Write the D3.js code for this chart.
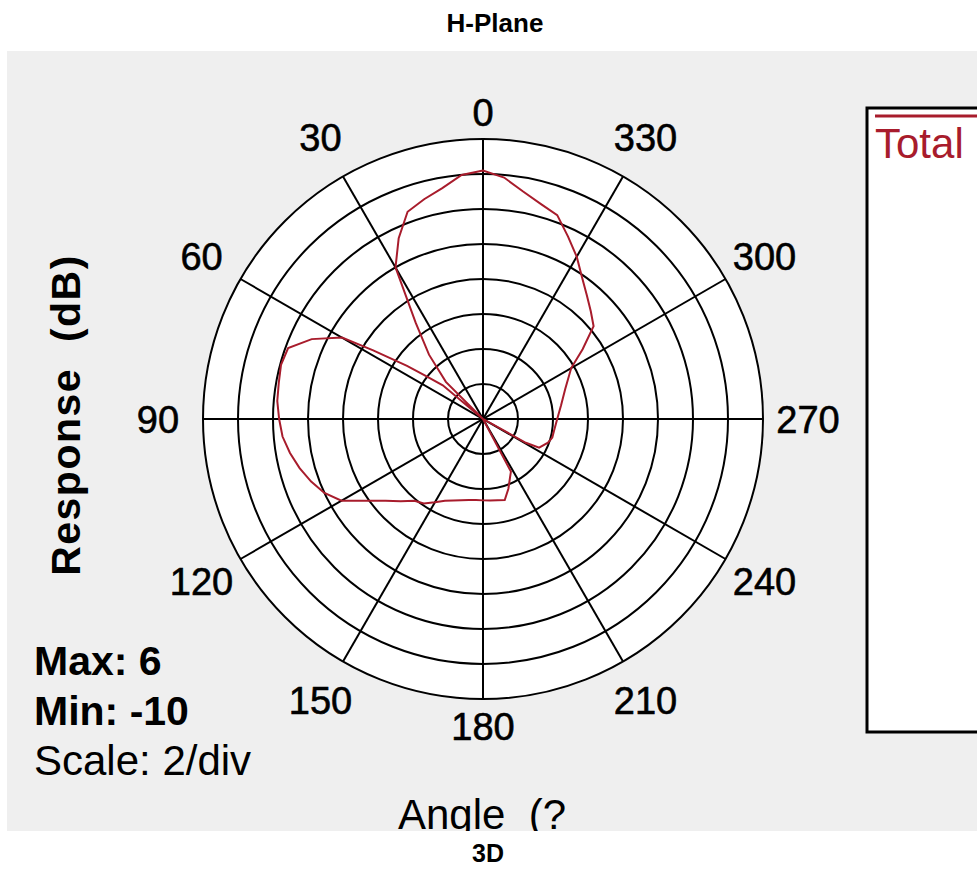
<!DOCTYPE html>
<html>
<head>
<meta charset="utf-8">
<script src="https://cdn.jsdelivr.net/npm/d3@7"></script>
<style>
  body { margin: 0; background: #fff; }
  text { font-family: "Liberation Sans", Arial, sans-serif; }
</style>
</head>
<body>
<div id="chart"></div>
<script>
// measured pattern, angle in degrees (counter-clockwise from top), response in dB
const angles = [0, 5, 10, 15, 20, 25, 30, 35, 40, 45, 47, 50, 53, 55, 58, 60, 65, 70, 75, 80, 85, 90,
  95, 100, 105, 110, 115, 120, 125, 130, 135, 140, 145, 150, 155, 160, 165, 170, 175, 180,
  185, 190, 195, 200, 205, 208, 212, 225, 238, 241, 243, 250, 255, 260, 270, 280, 290,
  300, 305, 310, 315, 320, 325, 330, 335, 340, 345, 350, 355];
const response = [4.2, 4.0, 3.4, 3.0, 2.6, 1.4, 0.0, -3.3, -5.2, -7.0, -10, -7.0, -5.9, -4.7, -2.6, -0.7, 0.8, 1.85, 1.95, 1.85, 1.8, 1.65,
  1.5, 1.2, 0.85, 0.45, 0.0, -0.66, -1.86, -2.73, -3.35, -3.9, -4.1, -4.5, -4.85, -5.05, -5.2, -5.3, -5.35, -5.35,
  -5.33, -5.28, -5.2, -5.76, -6.34, -6.6, -10, -10, -10, -7.2, -6.4, -6.05, -5.9, -5.89, -5.76, -5.47, -5.0,
  -4.18, -3.05, -1.75, -1.29, -0.77, -0.13, 0.71, 1.5, 2.4, 2.73, 3.2, 3.85];

const ringValues = [-8, -6, -4, -2, 0, 2, 4, 6];
const spokeAngles = [0, 30, 60, 90, 120, 150];
const angleTicks = [0, 30, 60, 90, 120, 150, 180, 210, 240, 270, 300, 330];
const statLines = ["Max: 6", "Min: -10", "Scale: 2/div"];
const seriesName = "Total";

const width = 977, height = 872;
const cx = 483, cy = 419, R = 280;
const red = "#a81c2c";

const svg = d3.select("#chart").append("svg")
  .attr("width", width)
  .attr("height", height);

svg.append("text")
  .attr("x", 495).attr("y", 32)
  .attr("text-anchor", "middle")
  .style("font-size", "26px").style("font-weight", "bold")
  .text("H-Plane");

svg.append("clipPath").attr("id", "panel-clip")
  .append("rect").attr("x", 7).attr("y", 51).attr("width", 970).attr("height", 780);

const panel = svg.append("g").attr("clip-path", "url(#panel-clip)");
panel.append("rect")
  .attr("x", 7).attr("y", 51).attr("width", 970).attr("height", 780)
  .attr("fill", "#efefef");

const r = d3.scaleLinear().domain([-10, 6]).range([0, R]).clamp(true);
const toRad = d => -d * Math.PI / 180;

const polar = panel.append("g").attr("transform", `translate(${cx},${cy})`);

polar.append("circle").attr("r", R).attr("fill", "#fff");

polar.selectAll(".ring")
  .data(ringValues)
  .enter().append("circle")
  .attr("class", "ring")
  .attr("r", d => r(d))
  .attr("fill", "none")
  .attr("stroke", "#000")
  .attr("stroke-width", 2);

polar.selectAll(".spoke")
  .data(spokeAngles)
  .enter().append("line")
  .attr("class", "spoke")
  .attr("x1", d => R * Math.sin(toRad(d)))
  .attr("y1", d => -R * Math.cos(toRad(d)))
  .attr("x2", d => -R * Math.sin(toRad(d)))
  .attr("y2", d => R * Math.cos(toRad(d)))
  .attr("stroke", "#000")
  .attr("stroke-width", 2);

const line = d3.lineRadial()
  .angle(d => toRad(d[0]))
  .radius(d => r(d[1]))
  .curve(d3.curveLinearClosed);

polar.append("path")
  .datum(d3.zip(angles, response))
  .attr("d", line)
  .attr("fill", "none")
  .attr("stroke", red)
  .attr("stroke-width", 2);

const labelRadius = d => d % 180 === 0 ? R + 27 : R + 45;

polar.selectAll(".angle-label")
  .data(angleTicks)
  .enter().append("text")
  .attr("class", "angle-label")
  .attr("x", d => labelRadius(d) * Math.sin(toRad(d)))
  .attr("y", d => -labelRadius(d) * Math.cos(toRad(d)))
  .attr("dy", "0.36em")
  .attr("text-anchor", "middle")
  .style("font-size", "38px")
  .attr("stroke", "#000").attr("stroke-width", 0.6)
  .text(d => d);

panel.append("text")
  .attr("transform", "translate(80,415) rotate(-90)")
  .attr("text-anchor", "middle")
  .style("font-size", "41px").style("font-weight", "bold")
  .style("letter-spacing", "1.5px")
  .style("white-space", "pre")
  .text("Response  (dB)");

panel.selectAll(".stat")
  .data(statLines)
  .enter().append("text")
  .attr("class", "stat")
  .attr("x", 34)
  .attr("y", (d, i) => 675 + i * 50)
  .style("font-size", (d, i) => i < 2 ? "41px" : "42px")
  .style("font-weight", (d, i) => i < 2 ? "bold" : "normal")
  .text(d => d);

panel.append("text")
  .attr("x", 398).attr("y", 829)
  .style("font-size", "42px")
  .style("white-space", "pre")
  .text("Angle  (?");

// legend
panel.append("rect")
  .attr("x", 867).attr("y", 108).attr("width", 130).attr("height", 624)
  .attr("fill", "#fff").attr("stroke", "#000").attr("stroke-width", 3);
panel.append("line")
  .attr("x1", 875).attr("x2", 977).attr("y1", 116).attr("y2", 116)
  .attr("stroke", red).attr("stroke-width", 3);
panel.append("text")
  .attr("x", 875).attr("y", 158)
  .attr("fill", red)
  .style("font-size", "42px")
  .text(seriesName);

svg.append("text")
  .attr("x", 488).attr("y", 862)
  .attr("text-anchor", "middle")
  .style("font-size", "25px").style("font-weight", "bold")
  .text("3D");
</script>
</body>
</html>
